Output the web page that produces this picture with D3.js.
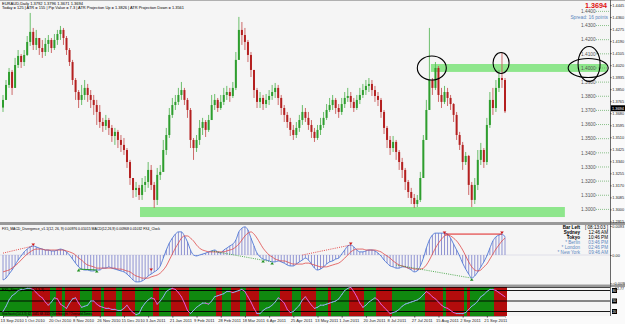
<!DOCTYPE html>
<html>
<head>
<meta charset="utf-8">
<script src="https://cdn.jsdelivr.net/npm/d3@7"></script>
<style>
  html, body { margin: 0; padding: 0; background: #fff; }
  svg { display: block; font-family: "Liberation Sans", Arial, sans-serif; }
</style>
</head>
<body>
<svg id="chart" width="625" height="324"></svg>
<script>
// EURAUD daily, each entry ~2 sessions
const firstOpen = 1.3720;
const closes = [
  1.3774,1.3880,1.3972,1.3859,1.4021,1.4085,1.4042,1.4092,1.4184,1.4255,
  1.4163,1.4212,1.4141,1.4113,1.4170,1.4198,1.4141,1.4198,1.4240,1.4269,
  1.4212,1.4127,1.4042,1.3915,1.3830,1.3774,1.3809,1.3859,1.3809,1.3774,
  1.3738,1.3689,1.3618,1.3590,1.3632,1.3576,1.3519,1.3548,1.3491,1.3456,
  1.3420,1.3335,1.3222,1.3137,1.3152,1.3102,1.3173,1.3194,1.3279,1.3173,
  1.3067,1.3244,1.3265,1.3420,1.3526,1.3668,1.3738,1.3760,1.3809,1.3844,
  1.3774,1.3703,1.3491,1.3434,1.3491,1.3576,1.3618,1.3562,1.3632,1.3738,
  1.3774,1.3717,1.3760,1.3809,1.3830,1.3802,1.3859,1.4057,1.4269,1.4233,
  1.4184,1.4092,1.3986,1.3844,1.3760,1.3788,1.3745,1.3774,1.3802,1.3830,
  1.3859,1.3788,1.3717,1.3668,1.3618,1.3562,1.3526,1.3576,1.3632,1.3689,
  1.3647,1.3597,1.3548,1.3505,1.3562,1.3597,1.3647,1.3703,1.3738,1.3774,
  1.3717,1.3689,1.3745,1.3788,1.3802,1.3760,1.3717,1.3774,1.3809,1.3844,
  1.3873,1.3887,1.3844,1.3802,1.3774,1.3689,1.3576,1.3491,1.3434,1.3477,
  1.3406,1.3335,1.3279,1.3194,1.3123,1.3081,1.3038,1.3067,1.3222,1.3491,
  1.3703,1.3915,1.3859,1.4000,1.3809,1.3760,1.3830,1.3788,1.3745,1.3668,
  1.3526,1.3456,1.3335,1.3378,1.3173,1.3067,1.3173,1.3350,1.3420,1.3335,
  1.3597,1.3774,1.3717,1.3859,1.3929,1.3915,1.3694
];
const highs = [
  1.3809,1.3915,1.4000,1.3986,1.4071,1.4127,1.4099,1.4127,1.4226,1.4389,
  1.4283,1.4269,1.4212,1.4198,1.4212,1.4233,1.4212,1.4240,1.4269,1.4297,
  1.4283,1.4226,1.4141,1.4057,1.3929,1.3844,1.3880,1.3915,1.3887,1.3844,
  1.3809,1.3774,1.3738,1.3647,1.3668,1.3647,1.3597,1.3576,1.3562,1.3526,
  1.3505,1.3434,1.3350,1.3222,1.3194,1.3173,1.3222,1.3236,1.3335,1.3314,
  1.3194,1.3293,1.3314,1.3491,1.3576,1.3717,1.3788,1.3809,1.3859,1.3901,
  1.3859,1.3788,1.3717,1.3505,1.3526,1.3632,1.3647,1.3632,1.3668,1.3809,
  1.3816,1.3788,1.3809,1.3859,1.3873,1.3859,1.3901,1.4113,1.4361,1.4325,
  1.4283,1.4198,1.4113,1.3986,1.3859,1.3830,1.3809,1.3816,1.3844,1.3880,
  1.3894,1.3880,1.3809,1.3738,1.3689,1.3647,1.3597,1.3618,1.3668,1.3738,
  1.3717,1.3689,1.3632,1.3576,1.3597,1.3647,1.3689,1.3745,1.3788,1.3809,
  1.3788,1.3745,1.3788,1.3830,1.3859,1.3830,1.3788,1.3809,1.3859,1.3887,
  1.3915,1.3929,1.3915,1.3873,1.3830,1.3788,1.3703,1.3590,1.3519,1.3519,
  1.3491,1.3420,1.3364,1.3293,1.3208,1.3152,1.3109,1.3102,1.3265,1.3526,
  1.3774,1.4283,1.3929,1.4042,1.4014,1.3859,1.3873,1.3859,1.3809,1.3752,
  1.3689,1.3548,1.3477,1.3406,1.3385,1.3194,1.3222,1.3420,1.3470,1.3434,
  1.3647,1.3830,1.3859,1.3915,1.3986,1.4106,1.3929
];
const lows = [
  1.3689,1.3774,1.3859,1.3809,1.3859,1.4000,1.4000,1.4014,1.4085,1.4156,
  1.4127,1.4127,1.4092,1.4071,1.4085,1.4113,1.4106,1.4127,1.4163,1.4198,
  1.4163,1.4092,1.4014,1.3880,1.3774,1.3717,1.3738,1.3774,1.3760,1.3717,
  1.3668,1.3597,1.3576,1.3548,1.3562,1.3526,1.3477,1.3456,1.3434,1.3406,
  1.3385,1.3293,1.3173,1.3081,1.3088,1.3067,1.3067,1.3123,1.3152,1.3137,
  1.3010,1.3031,1.3208,1.3265,1.3385,1.3505,1.3647,1.3703,1.3738,1.3774,
  1.3738,1.3647,1.3434,1.3350,1.3406,1.3456,1.3526,1.3512,1.3548,1.3632,
  1.3703,1.3689,1.3703,1.3738,1.3774,1.3760,1.3788,1.3844,1.4057,1.4163,
  1.4127,1.4042,1.3936,1.3788,1.3717,1.3717,1.3703,1.3717,1.3738,1.3774,
  1.3788,1.3738,1.3668,1.3618,1.3576,1.3519,1.3491,1.3505,1.3548,1.3597,
  1.3618,1.3562,1.3505,1.3477,1.3491,1.3526,1.3576,1.3632,1.3689,1.3703,
  1.3675,1.3647,1.3668,1.3717,1.3760,1.3717,1.3689,1.3703,1.3745,1.3788,
  1.3809,1.3830,1.3802,1.3760,1.3731,1.3647,1.3533,1.3434,1.3385,1.3406,
  1.3350,1.3279,1.3222,1.3137,1.3081,1.3038,1.3010,1.3017,1.3052,1.3222,
  1.3491,1.3703,1.3809,1.3844,1.3760,1.3717,1.3745,1.3731,1.3703,1.3618,
  1.3491,1.3420,1.3279,1.3314,1.3102,1.3017,1.3038,1.3137,1.3314,1.3293,
  1.3314,1.3576,1.3668,1.3689,1.3830,1.3859,1.3682
];

// MACD(12,26,9) main and signal
const macdMain = [
  -0.0080,-0.0074,-0.0061,-0.0048,-0.0032,-0.0016,-0.0003,0.0010,0.0019,0.0026,
  0.0029,0.0026,0.0022,0.0019,0.0016,0.0016,0.0013,0.0013,0.0016,0.0019,
  0.0016,0.0010,0.0000,-0.0013,-0.0026,-0.0038,-0.0045,-0.0048,-0.0048,-0.0051,
  -0.0051,-0.0048,-0.0048,-0.0042,-0.0042,-0.0038,-0.0042,-0.0045,-0.0048,-0.0051,
  -0.0054,-0.0061,-0.0070,-0.0080,-0.0086,-0.0086,-0.0083,-0.0077,-0.0067,-0.0061,
  -0.0054,-0.0048,-0.0035,-0.0010,0.0016,0.0038,0.0054,0.0067,0.0074,0.0074,
  0.0061,0.0042,0.0016,0.0000,-0.0003,0.0000,0.0003,0.0006,0.0010,0.0013,
  0.0016,0.0010,0.0006,0.0016,0.0022,0.0029,0.0035,0.0048,0.0074,0.0086,
  0.0090,0.0080,0.0054,0.0029,0.0006,-0.0006,-0.0013,-0.0016,-0.0019,-0.0022,
  -0.0022,-0.0019,-0.0022,-0.0026,-0.0032,-0.0035,-0.0035,-0.0029,-0.0022,-0.0016,
  -0.0010,-0.0016,-0.0029,-0.0042,-0.0048,-0.0045,-0.0038,-0.0029,-0.0022,-0.0019,
  -0.0013,-0.0010,0.0003,0.0016,0.0029,0.0032,0.0026,0.0016,0.0010,0.0010,
  0.0013,0.0016,0.0016,0.0013,0.0006,-0.0003,-0.0016,-0.0026,-0.0035,-0.0038,
  -0.0042,-0.0042,-0.0038,-0.0038,-0.0042,-0.0048,-0.0054,-0.0051,-0.0035,-0.0010,
  0.0022,0.0048,0.0064,0.0070,0.0070,0.0070,0.0070,0.0067,0.0054,0.0035,
  0.0016,-0.0003,-0.0026,-0.0045,-0.0061,-0.0074,-0.0067,-0.0054,-0.0038,-0.0022,
  -0.0003,0.0022,0.0045,0.0058,0.0064,0.0067,0.0058
];
const macdSignal = [
  -0.0054,-0.0051,-0.0048,-0.0042,-0.0035,-0.0026,-0.0016,-0.0006,0.0003,0.0010,
  0.0016,0.0019,0.0019,0.0019,0.0016,0.0016,0.0016,0.0016,0.0016,0.0016,
  0.0016,0.0013,0.0010,0.0006,0.0000,-0.0010,-0.0016,-0.0026,-0.0032,-0.0035,
  -0.0038,-0.0042,-0.0042,-0.0042,-0.0042,-0.0042,-0.0042,-0.0042,-0.0045,-0.0045,
  -0.0048,-0.0051,-0.0054,-0.0061,-0.0067,-0.0070,-0.0074,-0.0074,-0.0074,-0.0070,
  -0.0067,-0.0064,-0.0058,-0.0048,-0.0035,-0.0016,0.0003,0.0022,0.0038,0.0054,
  0.0061,0.0061,0.0054,0.0045,0.0032,0.0022,0.0016,0.0013,0.0010,0.0010,
  0.0010,0.0010,0.0010,0.0010,0.0013,0.0016,0.0019,0.0026,0.0035,0.0048,
  0.0061,0.0070,0.0074,0.0067,0.0054,0.0038,0.0022,0.0010,0.0000,-0.0006,
  -0.0013,-0.0016,-0.0019,-0.0019,-0.0022,-0.0026,-0.0029,-0.0029,-0.0029,-0.0029,
  -0.0026,-0.0026,-0.0029,-0.0032,-0.0035,-0.0038,-0.0038,-0.0038,-0.0035,-0.0032,
  -0.0029,-0.0026,-0.0019,-0.0010,0.0000,0.0010,0.0016,0.0019,0.0019,0.0019,
  0.0016,0.0016,0.0016,0.0016,0.0013,0.0010,0.0003,-0.0003,-0.0010,-0.0019,
  -0.0026,-0.0032,-0.0035,-0.0038,-0.0042,-0.0042,-0.0045,-0.0045,-0.0045,-0.0042,
  -0.0032,-0.0016,0.0003,0.0022,0.0038,0.0051,0.0061,0.0064,0.0061,0.0054,
  0.0045,0.0032,0.0016,-0.0003,-0.0022,-0.0038,-0.0048,-0.0051,-0.0048,-0.0038,
  -0.0029,-0.0013,0.0003,0.0019,0.0032,0.0045,0.0054
];
// divergence lines on the MACD pane: [fromBar, fromValue, toBar, toValue, kind, dotted]
const divLines = [
  [0, 0.0006, 10, 0.0029, 'bear', true],
  [25, -0.0045, 31, -0.0048, 'bull', false],
  [69, 0.0013, 89, -0.0022, 'bull', true],
  [99, 0.0000, 115, 0.0032, 'bear', true],
  [130, -0.0032, 155, -0.0074, 'bull', true],
  [146, 0.0067, 165, 0.0067, 'bear', false]
];
const divMarkBars = [10, 49, 25, 31, 86, 89, 115, 155, 146, 165];
const divMarkValues = [0.0029, -0.0051, -0.0045, -0.0048, -0.0016, -0.0022, 0.0032, -0.0074, 0.0067, 0.0067];
const divMarkKinds = ['bear','bear','bull','bull','bull','bull','bear','bull','bear','bear'];

// coloured stochastic
const stochK = [
  20,35,53,65,71,80,83,83,86,86, 83,74,65,59,47,38,47,59,56,41,
  35,29,44,56,59,44,32,35,38,50, 50,41,35,32,29,29,26,26,23,23,
  29,38,26,17,11,14,32,44,53,59, 56,41,50,62,77,83,86,83,74,62,
  44,23,14,23,32,38,44,44,41,50, 62,65,68,71,77,77,74,77,80,83,
  77,62,47,29,14,14,23,29,32,38, 47,59,53,44,26,17,20,29,38,53,
  62,50,38,29,32,38,38,41,44,47, 50,56,68,80,86,89,77,62,44,32,
  38,47,53,59,53,41,32,23,14,17, 20,26,35,41,44,47,50,53,59,68,
  77,71,62,56,47,38,32,29,23,17, 14,14,14,17,26,35,41,50,62,68,
  77,83,83,80,74,68,62
];
const stochLevels = [80, 50, 20];
// background zones of the stochastic pane: [state, number of bars]
const zoneRuns = [
  ['up',10],['dn',6],['up',2],['dn',2],['up',1],['dn',5],['up',4],['dn',3],['up',1],['dn',4],
  ['up',2],['dn',4],['up',6],['dn',2],['up',4],['dn',6],['up',9],['dn',2],['up',3],['dn',3],
  ['up',2],['dn',4],['up',7],['dn',4],['up',3],['dn',5],['up',4],['dn',1],['up',6],['dn',5],
  ['up',4],['dn',5],['up',11],['dn',6],['up',1],['dn',6],['up',1],['dn',1],['up',8],['dn',4]
];

// support / resistance bands and marked spots
const bandTop = [1.4028, 1.3017];
const bandBottom = [1.3972, 1.2946];
const bandFromBar = [141.5, 45.3];
const bandToBar = [199.7, 185.8];
const markBars = [141.8, 164.7, 193.5, 193.8];
const markPrices = [1.4000, 1.4035, 1.4000, 1.4028];

const roundLevels = [1.44,1.43,1.42,1.41,1.40,1.39,1.38,1.37,1.36,1.35,1.34,1.33,1.32,1.31,1.30];
const priceTicks = [1.4445,1.4360,1.4275,1.4190,1.4105,1.4020,1.3935,1.3850,1.3765,1.3680,
  1.3595,1.3510,1.3425,1.3340,1.3255,1.3170,1.3085,1.3000,1.2915];
const macdTicks = [0.0093, 0, -0.0090];
const dateLabels = ['13 Sep 2010','1 Oct 2010','20 Oct 2010','8 Nov 2010','26 Nov 2010','15 Dec 2010',
  '3 Jan 2011','21 Jan 2011','9 Feb 2011','28 Feb 2011','18 Mar 2011','6 Apr 2011','25 Apr 2011',
  '13 May 2011','1 Jun 2011','20 Jun 2011','8 Jul 2011','27 Jul 2011','15 Aug 2011','2 Sep 2011','21 Sep 2011'];
const barsPerLabel = 8;

const clockNames = ['Bar Left', 'Sydney', 'Tokyo', '* Berlin', '* London', '* New York'];
const clockTimes = ['[ 08:13:03 ]', '12:46 AM', '10:46 PM', '03:46 PM', '02:46 PM', '09:46 AM'];

// ---------------------------------------------------------------
const svg = d3.select('#chart');
const PR = 610;            // right edge of the plot area
const N = closes.length;
const x = d3.scaleLinear().domain([0, N - 1]).range([3, 505]);
const step = x(1) - x(0);
const yP = d3.scaleLinear().domain([1.30, 1.44]).range([209.4, 11.4]);
const yM = d3.scaleLinear().domain([-0.0096, 0.0096]).range([285, 225]);
const yS = d3.scaleLinear().domain([0, 100]).range([318.5, 283.5]);

const panes = { main: [1, 222], macd: [225, 284.5], stoch: [287, 316] };
const bull = '#2e9e2e', bear = '#b42020';

svg.append('rect').attr('width', 625).attr('height', 324).attr('fill', '#fafafa');
const defs = svg.append('defs');
Object.entries(panes).forEach(([k, [t, b]]) => {
  svg.append('rect').attr('x', 0).attr('y', t).attr('width', PR).attr('height', b - t).attr('fill', '#f5f5f5');
  defs.append('clipPath').attr('id', 'clip-' + k)
    .append('rect').attr('x', 0).attr('y', t).attr('width', PR).attr('height', b - t);
});
svg.append('rect').attr('x', 0).attr('y', 0).attr('width', 625).attr('height', 1).attr('fill', '#b0b0b0');
svg.append('rect').attr('x', 0).attr('y', 222).attr('width', 625).attr('height', 3).attr('fill', '#999');
svg.append('rect').attr('x', 0).attr('y', 284.5).attr('width', 625).attr('height', 2.5).attr('fill', '#999');

function label(g, x0, y0, s, size, color, opts = {}) {
  const t = g.append('text').attr('x', x0).attr('y', y0).text(s)
    .attr('font-size', size).attr('fill', color);
  if (opts.anchor) t.attr('text-anchor', opts.anchor);
  if (opts.weight) t.attr('font-weight', opts.weight);
  if (opts.len) t.attr('textLength', opts.len).attr('lengthAdjust', 'spacingAndGlyphs');
  return t;
}

// ---------- main price pane ----------
const gMain = svg.append('g').attr('clip-path', 'url(#clip-main)');
const bands = bandTop.map((t, k) => ({ t, b: bandBottom[k], a: bandFromBar[k], z: bandToBar[k] }));
gMain.selectAll('rect.band').data(bands).join('rect').attr('class', 'band')
  .attr('x', d => x(d.a)).attr('width', d => x(d.z) - x(d.a))
  .attr('y', d => yP(d.t)).attr('height', d => yP(d.b) - yP(d.t))
  .attr('fill', '#8ee68c');

const candles = closes.map((c, i) => ({ i, o: i ? closes[i - 1] : firstOpen, h: highs[i], l: lows[i], c }));
gMain.selectAll('line.wick').data(candles).join('line').attr('class', 'wick')
  .attr('x1', d => x(d.i)).attr('x2', d => x(d.i))
  .attr('y1', d => yP(d.h)).attr('y2', d => yP(d.l))
  .attr('stroke', d => d.c >= d.o ? '#5cb85c' : '#c85a5a').attr('stroke-width', 0.9);
gMain.selectAll('rect.body').data(candles).join('rect').attr('class', 'body')
  .attr('x', d => x(d.i) - 1).attr('width', 2)
  .attr('y', d => yP(Math.max(d.o, d.c)))
  .attr('height', d => Math.max(0.8, Math.abs(yP(d.o) - yP(d.c))))
  .attr('fill', d => d.c >= d.o ? bull : bear);

// round-number levels with dotted leaders to the axis
const gLev = svg.append('g');
gLev.selectAll('line').data(roundLevels).join('line')
  .attr('x1', 596).attr('x2', PR).attr('y1', d => yP(d)).attr('y2', d => yP(d))
  .attr('stroke', '#5caa5c').attr('stroke-width', 0.7).attr('stroke-dasharray', '1,1');
gLev.selectAll('text').data(roundLevels).join('text')
  .attr('x', 581).attr('y', d => yP(d) + 1.7).text(d => d3.format('.4f')(d))
  .attr('font-size', 4.8).attr('fill', '#555');

// ellipses
const ell = [[14.5, 12], [8, 10.5], [20, 9.5], [11, 17.5]];
svg.append('g').selectAll('ellipse').data(markBars).join('ellipse')
  .attr('cx', d => x(d)).attr('cy', (d, k) => yP(markPrices[k]))
  .attr('rx', (d, k) => ell[k][0]).attr('ry', (d, k) => ell[k][1])
  .attr('fill', 'none').attr('stroke', '#000').attr('stroke-width', 1.1);

// header texts
label(svg, 2, 4.6, 'EURAUD,Daily  1.3792 1.3796 1.3671 1.3694', 4.3, '#000', { len: 81 });
label(svg, 2, 9, 'Today = 125   |   ATR = 155   |   Pip Value = 7.3   |   ATR Projection Up = 1.3826   |   ATR Projection Down = 1.3561',
  4.3, '#000', { len: 182 });
label(svg, 607, 8.2, '1.3694', 7.2, '#e01010', { anchor: 'end', weight: 'bold' });
label(svg, 608, 18.6, 'Spread: 16 points', 4.8, '#5a86c0', { anchor: 'end' });

// price axis
const axP = svg.append('g').attr('transform', `translate(${PR},0)`)
  .call(d3.axisRight(yP).tickValues(priceTicks).tickSize(1.5).tickPadding(0.8).tickFormat(d3.format('.4f')));
axP.select('.domain').remove();
axP.selectAll('text').attr('font-size', 3.9).attr('fill', '#222').attr('font-family', 'Liberation Sans, Arial');
axP.selectAll('line').attr('stroke', '#444');
const lastY = yP(closes[N - 1]) - 3;
svg.append('rect').attr('x', PR + 1).attr('y', lastY - 3).attr('width', 14).attr('height', 6).attr('fill', '#000');
label(svg, PR + 2, lastY + 1.5, d3.format('.4f')(closes[N - 1]), 3.9, '#fff');

// ---------- MACD pane ----------
const gM = svg.append('g').attr('clip-path', 'url(#clip-macd)');
gM.append('line').attr('x1', 0).attr('x2', PR).attr('y1', yM(0)).attr('y2', yM(0))
  .attr('stroke', '#c8c8dc').attr('stroke-width', 0.5);
gM.selectAll('line.hist').data(macdMain).join('line').attr('class', 'hist')
  .attr('x1', (d, i) => x(i)).attr('x2', (d, i) => x(i))
  .attr('y1', yM(0)).attr('y2', d => yM(d))
  .attr('stroke', '#8f93d2').attr('stroke-width', 1);
gM.append('path').datum(macdMain)
  .attr('d', d3.line().x((d, i) => x(i)).y(d => yM(d)).curve(d3.curveMonotoneX))
  .attr('fill', 'none').attr('stroke', '#4f78d6').attr('stroke-width', 0.9);
gM.append('path').datum(macdSignal)
  .attr('d', d3.line().x((d, i) => x(i)).y(d => yM(d)).curve(d3.curveMonotoneX))
  .attr('fill', 'none').attr('stroke', '#e04a4a').attr('stroke-width', 0.8);
gM.selectAll('line.div').data(divLines).join('line').attr('class', 'div')
  .attr('x1', d => x(d[0])).attr('y1', d => yM(d[1]))
  .attr('x2', d => x(d[2])).attr('y2', d => yM(d[3]))
  .attr('stroke', d => d[4] === 'bear' ? '#e02020' : '#2a9a2a')
  .attr('stroke-width', d => d[5] ? 0.8 : 1)
  .attr('stroke-dasharray', d => d[5] ? '1,1.2' : null);
gM.selectAll('path.mark').data(divMarkBars).join('path').attr('class', 'mark')
  .attr('d', (b, k) => {
    const cx = x(b), cy = yM(divMarkValues[k]);
    return divMarkKinds[k] === 'bear'
      ? `M${cx - 1.8},${cy - 2.5}L${cx + 1.8},${cy - 2.5}L${cx},${cy}Z`
      : `M${cx - 1.8},${cy + 2.5}L${cx + 1.8},${cy + 2.5}L${cx},${cy}Z`;
  })
  .attr('fill', (b, k) => divMarkKinds[k] === 'bear' ? '#d01818' : '#1f8f1f');

label(svg, 2, 229.6, 'FX5_MACD_Divergence_v1.1(12, 26, 9) 0.00976 0.01015   MACD(12,26,9) 0.00968 0.01032   FX4_Clock',
  4.1, '#000', { len: 158 });

// clock block
const gClk = svg.append('g');
clockNames.forEach((nm, k) => {
  const col = k < 3 ? '#000' : '#5a86c0';
  const yy = 228.6 + k * 5;
  label(gClk, 580, yy, nm, 4.6, col, { anchor: 'end', weight: k < 3 ? 'bold' : null });
  label(gClk, 608, yy, clockTimes[k], 4.6, col, { anchor: 'end' });
});

const axM = svg.append('g').attr('transform', `translate(${PR},0)`)
  .call(d3.axisRight(yM).tickValues(macdTicks).tickSize(1.5).tickPadding(0.8)
    .tickFormat(d => d === 0 ? '0.00' : d3.format('.4f')(d)));
axM.select('.domain').remove();
axM.selectAll('text').attr('font-size', 3.9).attr('fill', '#222').attr('font-family', 'Liberation Sans, Arial');
axM.selectAll('line').attr('stroke', '#444');

// ---------- stochastic pane ----------
const gS = svg.append('g').attr('clip-path', 'url(#clip-stoch)');
let cursor = 0;
const zoneRects = zoneRuns.map(([s, n]) => {
  const r = { s, a: cursor, b: cursor + n - 1 };
  cursor += n;
  return r;
});
gS.selectAll('rect.zone').data(zoneRects).join('rect').attr('class', 'zone')
  .attr('x', d => d.a === 0 ? 0 : x(d.a) - step / 2)
  .attr('width', d => x(d.b) + step / 2 - (d.a === 0 ? 0 : x(d.a) - step / 2))
  .attr('y', panes.stoch[0]).attr('height', panes.stoch[1] - panes.stoch[0])
  .attr('fill', d => d.s === 'up' ? '#10890f' : '#b30c0c')
  .attr('shape-rendering', 'crispEdges');
gS.selectAll('line.lvl').data(stochLevels).join('line').attr('class', 'lvl')
  .attr('x1', 0).attr('x2', PR + 2).attr('y1', d => yS(d)).attr('y2', d => yS(d))
  .attr('stroke', '#000').attr('stroke-width', 0.9);
gS.append('line').attr('x1', 0).attr('x2', PR).attr('y1', 287.4).attr('y2', 287.4)
  .attr('stroke', '#000').attr('stroke-width', 0.8);
gS.selectAll('line.k').data(d3.pairs(d3.range(N))).join('line').attr('class', 'k')
  .attr('x1', d => x(d[0])).attr('y1', d => yS(stochK[d[0]]))
  .attr('x2', d => x(d[1])).attr('y2', d => yS(stochK[d[1]]))
  .attr('stroke', d => stochK[d[1]] >= stochK[d[0]] ? '#8fb2ea' : '#e45ad6')
  .attr('stroke-width', 1).attr('stroke-linecap', 'round');
label(svg, 2, 291.2, 'FX5_Stoch_Zones(14,3,3)', 3.9, '#000', { len: 42 });
label(svg, 2, 315.2, 'Stochastic(14,3,3) 62.1045 68.3320   Overbought / Oversold Zones', 3.9, '#000', { len: 90 });

svg.selectAll('rect.lvlbox').data(stochLevels).join('rect').attr('class', 'lvlbox')
  .attr('x', PR + 2).attr('y', d => yS(d) - 2.5).attr('width', 5).attr('height', 5).attr('fill', '#000');
svg.selectAll('text.lvlbox').data(stochLevels).join('text').attr('class', 'lvlbox')
  .attr('x', PR + 2.4).attr('y', d => yS(d) + 1.3).text(d => d)
  .attr('font-size', 3.4).attr('fill', '#fff');
label(svg, 624, 289.5, '92.77', 3.6, '#222', { anchor: 'end' });

// right axis line
svg.append('line').attr('x1', PR + 0.5).attr('x2', PR + 0.5).attr('y1', 0).attr('y2', 316)
  .attr('stroke', '#444').attr('stroke-width', 0.8);

// ---------- date axis ----------
const labelBars = dateLabels.map((d, k) => k * barsPerLabel);
const axD = svg.append('g').attr('transform', 'translate(0,316)')
  .call(d3.axisBottom(x).tickValues(labelBars).tickSize(1.5).tickPadding(1.2)
    .tickFormat((d, k) => dateLabels[k]));
axD.select('.domain').attr('stroke', '#666').attr('stroke-width', 0.6);
axD.selectAll('line').attr('stroke', '#444');
axD.selectAll('text').attr('text-anchor', 'start').attr('dx', -3)
  .attr('font-size', 4.1).attr('fill', '#222').attr('font-family', 'Liberation Sans, Arial');
</script>
</body>
</html>
